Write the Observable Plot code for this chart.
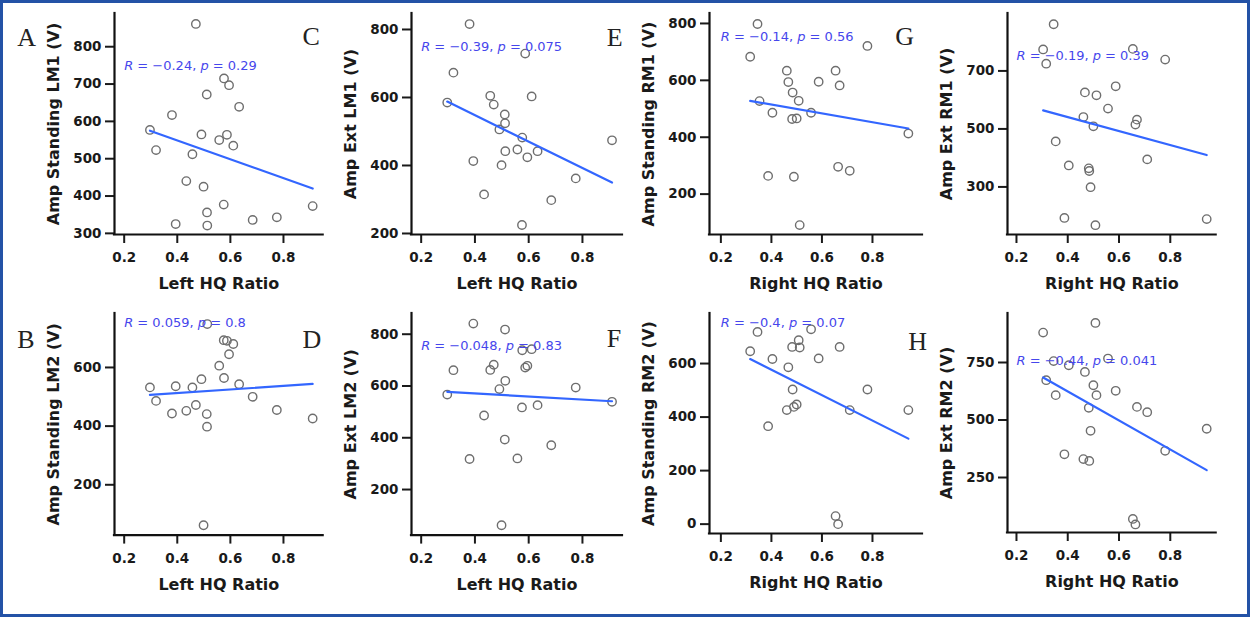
<!DOCTYPE html>
<html>
<head>
<meta charset="utf-8">
<script src="https://cdn.jsdelivr.net/npm/d3@7"></script>
<script src="https://cdn.jsdelivr.net/npm/@observablehq/plot@0.6"></script>
<style>
  html, body { margin: 0; padding: 0; background: #fff; }
  #fig { position: relative; width: 1250px; height: 617px; background: #fff; overflow: hidden; }
  .panel { position: absolute; }
  .panel svg { overflow: visible; }
  #frame { position: absolute; left: 0; top: 0; width: 1250px; height: 617px; box-sizing: border-box;
           border: 3px solid #2352a6; pointer-events: none; z-index: 10; }
</style>
</head>
<body>
<div id="fig"><div id="frame"></div></div>
<script>
// ---------------- data ----------------
const leftHQ  = [0.297, 0.320, 0.380, 0.394, 0.434, 0.457, 0.470, 0.491, 0.499, 0.511, 0.512,
                 0.513, 0.558, 0.575, 0.576, 0.587, 0.595, 0.611, 0.633, 0.684, 0.775, 0.910];
const rightHQ = [0.304, 0.316, 0.345, 0.353, 0.387, 0.404, 0.461, 0.467, 0.482, 0.484, 0.489,
                 0.500, 0.508, 0.512, 0.557, 0.587, 0.654, 0.664, 0.670, 0.710, 0.780, 0.942];

const ampStandingLM1 = [577, 523, 617, 325, 440, 512, 861, 565, 425, 672, 356,
                        321, 550, 377, 715, 564, 697, 535, 639, 336, 343, 373];
const ampExtLM1      = [585, 673, 816, 413, 315, 605, 579, 506, 401, 550, 524,
                        442, 447, 225, 482, 729, 424, 603, 442, 298, 362, 474];
const ampStandingLM2 = [532, 486, 443, 536, 452, 532, 472, 560, 62, 441, 398,
                        748, 606, 693, 564, 691, 645, 680, 543, 500, 455, 426];
const ampExtLM2      = [567, 661, 318, 841, 486, 662, 682, 588, 62, 393, 818,
                        620, 320, 517, 738, 671, 678, 742, 526, 371, 594, 539];
const ampStandingRM1 = [null, 683, 798, 527, 264, 486, 634, 594, 464, 557, 261,
                        466, 528, 91, 486, 595, 634, 296, 582, 282, 721, 413];
const ampExtRM1      = [774, 725, 861, 457, 193, 374, 541, 626, 364, 355, 299,
                        509, 168, 616, 570, 647, 776, 515, 532, 395, 739, 189];
const ampStandingRM2 = [null, 646, 718, null, 366, 617, 426, 586, 662, 503, 438,
                        447, 687, 660, 728, 619, 30, 0, 662, 426, 503, 426];
const ampExtRM2      = [880, 673, 756, 608, 351, 738, 330, 709, 553, 322, 453,
                        651, 922, 608, 767, 627, 70, 46, 557, 534, 366, 462];

const panelLetters = ["A", "C", "E", "G", "B", "D", "F", "H"];
const yTitles = ["Amp Standing LM1 (V)", "Amp Ext LM1 (V)", "Amp Standing RM1 (V)", "Amp Ext RM1 (V)",
                 "Amp Standing LM2 (V)", "Amp Ext LM2 (V)", "Amp Standing RM2 (V)", "Amp Ext RM2 (V)"];
const xTitles = ["Left HQ Ratio", "Left HQ Ratio", "Right HQ Ratio", "Right HQ Ratio",
                 "Left HQ Ratio", "Left HQ Ratio", "Right HQ Ratio", "Right HQ Ratio"];
const corrR = ["\u22120.24", "\u22120.39", "\u22120.14", "\u22120.19",
               "0.059", "\u22120.048", "\u22120.4", "\u22120.44"];
const corrP = ["0.29", "0.075", "0.56", "0.39", "0.8", "0.83", "0.07", "0.041"];
const xTicks = [0.2, 0.4, 0.6, 0.8];
const yTickSets = [[300, 400, 500, 600, 700, 800], [200, 400, 600, 800], [200, 400, 600, 800], [300, 500, 700],
                   [200, 400, 600], [200, 400, 600, 800], [0, 200, 400, 600], [250, 500, 750]];
const xValues = [leftHQ, leftHQ, rightHQ, rightHQ, leftHQ, leftHQ, rightHQ, rightHQ];
const yValues = [ampStandingLM1, ampExtLM1, ampStandingRM1, ampExtRM1,
                 ampStandingLM2, ampExtLM2, ampStandingRM2, ampExtRM2];

// ---------------- layout ----------------
const layout = [
  {x0: 114.3,  x1: 323,   yT: 13.3,  yB: 234.3, xd: [0.1635, 0.9496], yd: [297, 889], lx: 17,  ly: 46},
  {x0: 411,    x1: 622,   yT: 13.3,  yB: 234.3, xd: [0.164, 0.949],   yd: [197, 847], lx: 302, ly: 45},
  {x0: 708.7,  x1: 921.7, yT: 13.3,  yB: 234.3, xd: [0.155, 0.998],   yd: [58, 835],  lx: 606, ly: 46},
  {x0: 1007.3, x1: 1216,  yT: 13.3,  yB: 234.3, xd: [0.165, 0.979],   yd: [136, 898], lx: 895, ly: 45},
  {x0: 114.3,  x1: 323,   yT: 312.7, yB: 534.3, xd: [0.1635, 0.9496], yd: [28.5, 784], lx: 17, ly: 347},
  {x0: 411,    x1: 622,   yT: 312.7, yB: 534.3, xd: [0.164, 0.949],   yd: [24, 880],  lx: 302, ly: 347},
  {x0: 708.7,  x1: 921.7, yT: 313.3, yB: 533.3, xd: [0.155, 0.998],   yd: [-35, 787], lx: 606, ly: 347},
  {x0: 1007.3, x1: 1216,  yT: 313.3, yB: 532.3, xd: [0.165, 0.979],   yd: [11, 963],  lx: 908, ly: 350}
];
const statX = 0.2, statY = 738;
const ML = 120, MR = 12, MT = 14, MB = 72;
const FONT = "'DejaVu Sans', 'Liberation Sans', sans-serif";

const fig = document.getElementById("fig");

layout.forEach((g, k) => {
  const width = ML + (g.x1 - g.x0) + MR;
  const height = MT + (g.yB - g.yT) + MB;
  const rows = xValues[k].map((x, i) => ({x, y: yValues[k][i]})).filter(d => d.y != null);
  const label = `R = ${corrR[k]}, p = ${corrP[k]}`;

  const svg = Plot.plot({
    width, height,
    marginLeft: ML, marginRight: MR, marginTop: MT, marginBottom: MB,
    style: {fontFamily: FONT, background: "transparent", color: "#1a1a1a", overflow: "visible"},
    x: {domain: g.xd},
    y: {domain: g.yd},
    marks: [
      Plot.dot(rows, {x: "x", y: "y", r: 4.2, stroke: "#6e6e6e", strokeWidth: 1.4, fill: "none"}),
      Plot.linearRegressionY(rows, {x: "x", y: "y", stroke: "#3366FF", strokeWidth: 2.2, ci: 0}),
      Plot.text([{x: statX, y: statY, label}], {
        x: "x", y: "y", text: "label", textAnchor: "start", lineAnchor: "bottom",
        fill: "#4646ec", fontSize: 13
      }),
      Plot.axisX({ticks: xTicks, tickFormat: d3.format(".1f"), tickSize: 9, tickPadding: 9,
                  fontSize: 13.5, fontWeight: "bold", strokeWidth: 2, label: null}),
      Plot.axisY({ticks: yTickSets[k], tickFormat: d3.format("d"), tickSize: 9, tickPadding: 4,
                  fontSize: 13.5, fontWeight: "bold", strokeWidth: 2, label: null}),
      Plot.ruleX([g.xd[0]], {stroke: "#111", strokeWidth: 2.2, strokeLinecap: "square"}),
      Plot.ruleY([g.yd[0]], {stroke: "#111", strokeWidth: 2.2, strokeLinecap: "square"}),
      Plot.text([xTitles[k]], {text: d => d, frameAnchor: "bottom", textAnchor: "middle",
                               lineAnchor: "bottom", dy: 54.5,
                               fontSize: 16, fontWeight: "bold", fill: "#1a1a1a"}),
      Plot.text([yTitles[k]], {text: d => d, frameAnchor: "left", textAnchor: "middle",
                               lineAnchor: "middle", rotate: -90, dx: -61,
                               fontSize: 16, fontWeight: "bold", fill: "#1a1a1a"}),
      Plot.text([panelLetters[k]], {text: d => d, frameAnchor: "top-left", textAnchor: "start",
                                    lineAnchor: "bottom", dx: g.lx - g.x0, dy: g.ly - g.yT,
                                    fontFamily: "'Liberation Serif', 'Times New Roman', serif",
                                    fontSize: 26, fill: "#222"})
    ]
  });

  // italic R and p in the correlation label
  d3.select(svg).selectAll("text")
    .filter(function () { return this.textContent === label; })
    .each(function () {
      const t = d3.select(this);
      t.text(null);
      t.append("tspan").attr("font-style", "italic").text("R");
      t.append("tspan").text(` = ${corrR[k]}, `);
      t.append("tspan").attr("font-style", "italic").text("p");
      t.append("tspan").text(` = ${corrP[k]}`);
    });

  const div = document.createElement("div");
  div.className = "panel";
  div.style.left = (g.x0 - ML) + "px";
  div.style.top = (g.yT - MT) + "px";
  div.style.width = width + "px";
  div.style.height = height + "px";
  div.appendChild(svg);
  fig.insertBefore(div, document.getElementById("frame"));
});
</script>
</body>
</html>
